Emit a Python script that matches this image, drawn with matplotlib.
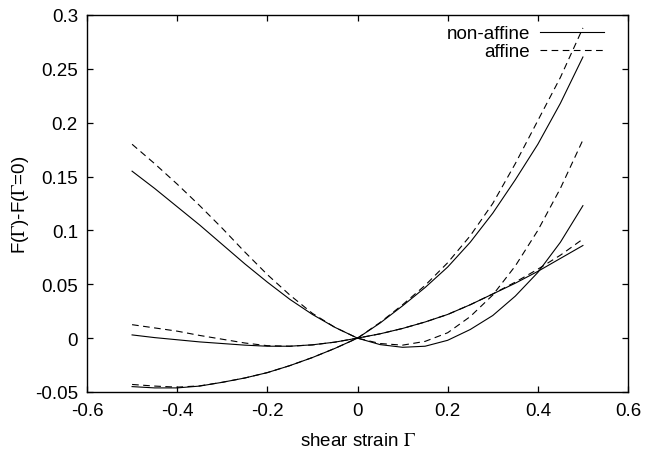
import matplotlib
matplotlib.use("Agg")
import matplotlib.pyplot as plt

plt.rcParams['font.family'] = ['Liberation Sans', 'DejaVu Sans']
plt.rcParams['mathtext.fontset'] = 'stix'

strain = [-0.5, -0.45, -0.4, -0.35, -0.3, -0.25, -0.2, -0.15, -0.1, -0.05, 0.0,
          0.05, 0.1, 0.15, 0.2, 0.25, 0.3, 0.35, 0.4, 0.45, 0.5]

# curve set 1 (large at negative strain)
c1_nonaffine = [0.155, 0.139, 0.122, 0.105, 0.087, 0.069, 0.052, 0.036, 0.022, 0.010, 0.0,
                -0.006, -0.0085, -0.0075, -0.002, 0.008, 0.021, 0.039, 0.061, 0.089, 0.123]
c1_affine = [0.180, 0.162, 0.143, 0.123, 0.102, 0.080, 0.059, 0.040, 0.023, 0.010, 0.0,
             -0.005, -0.0065, -0.003, 0.005, 0.020, 0.040, 0.067, 0.100, 0.139, 0.184]

# curve set 2 (steep rise at positive strain)
c2_nonaffine = [-0.045, -0.0462, -0.0462, -0.0445, -0.041, -0.037, -0.032, -0.0255, -0.018, -0.0095, 0.0,
                0.014, 0.030, 0.047, 0.066, 0.089, 0.116, 0.147, 0.180, 0.218, 0.261]
c2_affine = [-0.043, -0.0445, -0.0455, -0.0443, -0.041, -0.037, -0.032, -0.0255, -0.018, -0.0095, 0.0,
             0.0145, 0.031, 0.049, 0.070, 0.095, 0.125, 0.162, 0.202, 0.242, 0.288]

# curve set 3 (shallow)
c3_nonaffine = [0.003, 0.0005, -0.0015, -0.0035, -0.005, -0.0065, -0.0075, -0.0075, -0.0062, -0.0037, 0.0,
                0.004, 0.009, 0.015, 0.022, 0.031, 0.041, 0.051, 0.062, 0.074, 0.086]
c3_affine = [0.0125, 0.0095, 0.0065, 0.0025, -0.001, -0.0045, -0.007, -0.0075, -0.0063, -0.0037, 0.0,
             0.004, 0.009, 0.015, 0.022, 0.031, 0.041, 0.052, 0.064, 0.077, 0.092]

xticks = [-0.6, -0.4, -0.2, 0, 0.2, 0.4, 0.6]
xticklabels = ['-0.6', '-0.4', '-0.2', '0', '0.2', '0.4', '0.6']
yticks = [-0.05, 0, 0.05, 0.1, 0.15, 0.2, 0.25, 0.3]
yticklabels = ['-0.05', '0', '0.05', '0.1', '0.15', '0.2', '0.25', '0.3']

FS = 13.5
L, R, T, B = 87, 628, 16, 393
fig = plt.figure(figsize=(6.57, 4.56), dpi=100)
ax = fig.add_axes([L/657, 1-B/456, (R-L)/657, (B-T)/456])

lw = 0.8
dash = (6, 4)
ax.plot(strain, c1_nonaffine, color='black', lw=lw, label='non-affine')
ax.plot(strain, c1_affine, color='black', lw=lw, dashes=dash, label='affine')
ax.plot(strain, c2_nonaffine, color='black', lw=lw)
ax.plot(strain, c2_affine, color='black', lw=lw, dashes=dash)
ax.plot(strain, c3_nonaffine, color='black', lw=lw)
ax.plot(strain, c3_affine, color='black', lw=lw, dashes=dash)

ax.set_xlim(-0.6, 0.6)
ax.set_ylim(-0.05, 0.3)
ax.set_xticks(xticks)
ax.set_xticklabels(xticklabels)
ax.set_yticks(yticks)
ax.set_yticklabels(yticklabels)
ax.tick_params(direction='in', length=4.5, width=0.9, top=True, right=True,
               labelsize=FS, colors='black')
ax.tick_params(axis='x', pad=7.5)
ax.tick_params(axis='y', pad=6.5)
for s in ax.spines.values():
    s.set_linewidth(1.0)

ax.set_xlabel(r'shear strain $\Gamma$', fontsize=FS, va='center')
ax.xaxis.set_label_coords(0.5, (B-442)/(B-T))
ax.set_ylabel(r'F($\Gamma$)-F($\Gamma$=0)', fontsize=FS, va='center', ha='center')
ax.yaxis.set_label_coords((21-L)/(R-L), 0.5)

leg = ax.legend(loc='upper right', frameon=False, markerfirst=False,
                fontsize=FS, handlelength=3.4, handletextpad=0.55,
                labelspacing=0.05, borderaxespad=0.0, borderpad=0.0,
                bbox_to_anchor=(1 - 24/(R-L), 1 - 10/(B-T)))
for t in leg.get_texts():
    t.set_ha('right')

fig.savefig('out.png', dpi=100)
